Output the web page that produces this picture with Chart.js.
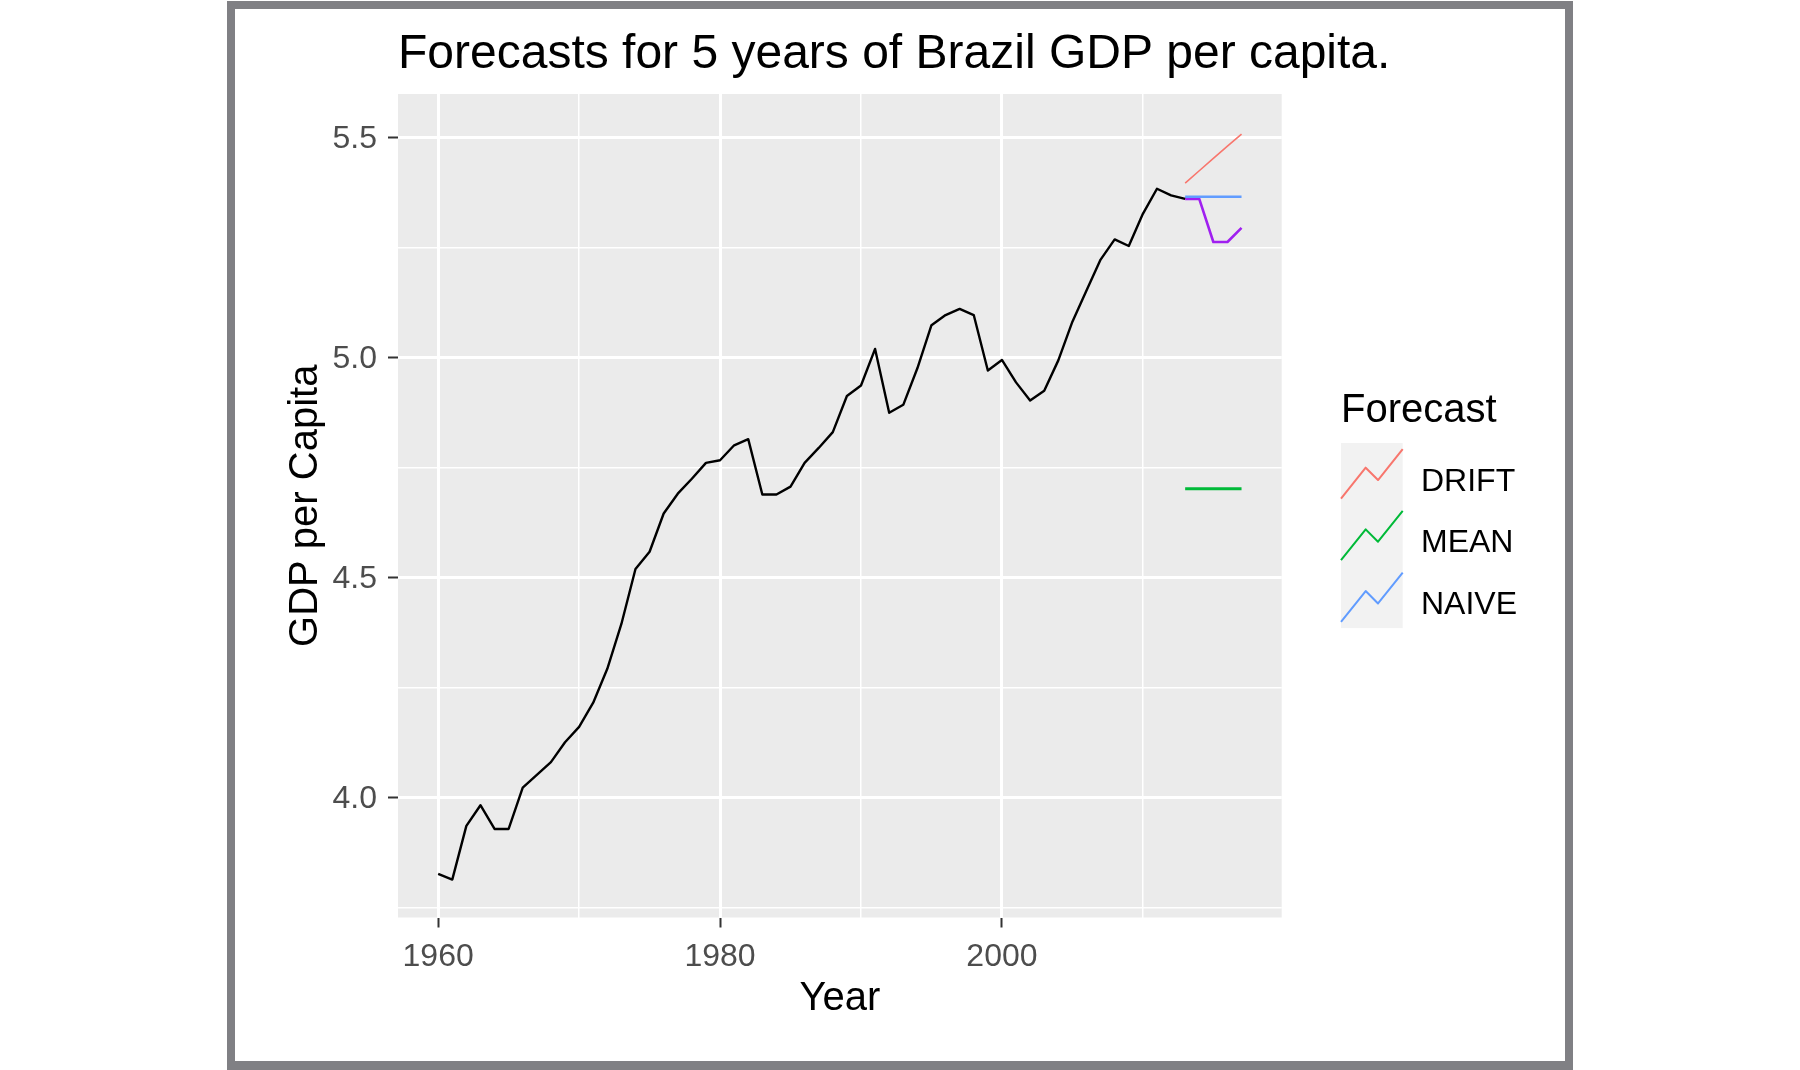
<!DOCTYPE html>
<html>
<head>
<meta charset="utf-8">
<title>Forecasts for 5 years of Brazil GDP per capita.</title>
<script src="https://cdn.jsdelivr.net/npm/chart.js@4.4.1/dist/chart.umd.min.js"></script>
<style>
    html, body { margin: 0; padding: 0; background: #ffffff; }
    #wrap { width: 1800px; height: 1070px; position: relative; }
</style>
</head>
<body>
<div id="wrap"><canvas id="gdpChart" width="1800" height="1070"></canvas></div>
<script>
// Brazil GDP per capita (log10) with 5 year forecasts

const years = [1960, 1961, 1962, 1963, 1964, 1965, 1966, 1967, 1968, 1969,
               1970, 1971, 1972, 1973, 1974, 1975, 1976, 1977, 1978, 1979,
               1980, 1981, 1982, 1983, 1984, 1985, 1986, 1987, 1988, 1989,
               1990, 1991, 1992, 1993, 1994, 1995, 1996, 1997, 1998, 1999,
               2000, 2001, 2002, 2003, 2004, 2005, 2006, 2007, 2008, 2009,
               2010, 2011, 2012, 2013];
const gdp = [3.826, 3.813, 3.935, 3.982, 3.928, 3.928, 4.022, 4.051, 4.080, 4.125,
             4.160, 4.215, 4.292, 4.394, 4.519, 4.558, 4.645, 4.690, 4.724, 4.760,
             4.766, 4.800, 4.814, 4.688, 4.688, 4.706, 4.760, 4.794, 4.830, 4.912,
             4.936, 5.019, 4.874, 4.892, 4.975, 5.073, 5.096, 5.110, 5.096, 4.970,
             4.994, 4.943, 4.902, 4.924, 4.993, 5.081, 5.152, 5.222, 5.268, 5.253,
             5.326, 5.383, 5.368, 5.360];

const forecastYears = [2013, 2014, 2015, 2016, 2017];
const driftValues = [5.396, 5.424, 5.452, 5.480, 5.507];
const meanValues = [4.701, 4.701, 4.701, 4.701, 4.701];
const naiveValues = [5.365, 5.365, 5.365, 5.365, 5.365];
const actualValues = [5.360, 5.360, 5.262, 5.262, 5.294];

const legendLabels = ['DRIFT', 'MEAN', 'NAIVE'];

// axis breaks
const xTickLabels = [1960, 1980, 2000];
const xMinorBreaks = [1970, 1990, 2010];
const yTickLabels = [4.0, 4.5, 5.0, 5.5];
const yMinorBreaks = [3.75, 4.25, 4.75, 5.25];
const xLimits = [1957.15, 2019.85];
const yLimits = [3.7268, 5.5984];

const FONT = "'Liberation Sans', Arial, sans-serif";

function toPoints(xs, ys) {
    return xs.map((x, i) => ({ x: x, y: ys[i] }));
}

function isIn(list, v) {
    return list.some(m => Math.abs(m - v) < 1e-6);
}

// ggplot-like background, border, titles and legend
const ggDecor = {
    id: 'ggDecor',
    beforeDraw(chart) {
        const ctx = chart.ctx;
        const area = chart.chartArea;
        ctx.save();
        ctx.fillStyle = '#ffffff';
        ctx.fillRect(0, 0, chart.width, chart.height);
        // grey frame around the picture
        ctx.fillStyle = '#808084';
        ctx.fillRect(227, 1, 1346, 1069);
        ctx.fillStyle = '#ffffff';
        ctx.fillRect(235, 9, 1330, 1052);
        // panel
        ctx.fillStyle = '#ebebeb';
        ctx.fillRect(area.left, area.top, area.right - area.left, area.bottom - area.top);
        ctx.restore();
    },
    afterDraw(chart) {
        const ctx = chart.ctx;
        const area = chart.chartArea;
        ctx.save();
        ctx.fillStyle = '#000000';
        ctx.textBaseline = 'alphabetic';

        // title
        ctx.font = '48px ' + FONT;
        ctx.textAlign = 'left';
        ctx.fillText('Forecasts for 5 years of Brazil GDP per capita.', area.left, 68);

        // x axis title
        ctx.font = '40px ' + FONT;
        ctx.textAlign = 'center';
        ctx.fillText('Year', (area.left + area.right) / 2, 1010);

        // y axis title
        ctx.save();
        ctx.translate(317, (area.top + area.bottom) / 2);
        ctx.rotate(-Math.PI / 2);
        ctx.fillText('GDP per Capita', 0, 0);
        ctx.restore();

        // legend
        const keyLeft = 1341, keyTop = 443, keySize = 61.7;
        ctx.textAlign = 'left';
        ctx.font = '40px ' + FONT;
        ctx.fillText('Forecast', keyLeft, 422);

        const items = chart.data.datasets.filter(d => d.legendKey);
        ctx.fillStyle = '#f2f2f2';
        ctx.fillRect(keyLeft, keyTop, keySize, keySize * items.length);

        const zx = [0, 0.4, 0.6, 1];
        const zy = [0.1, 0.6, 0.4, 0.9];
        items.forEach((d, i) => {
            const top = keyTop + i * keySize;
            ctx.beginPath();
            zx.forEach((fx, j) => {
                const px = keyLeft + fx * keySize;
                const py = top + (1 - zy[j]) * keySize;
                if (j === 0) ctx.moveTo(px, py); else ctx.lineTo(px, py);
            });
            ctx.strokeStyle = d.borderColor;
            ctx.lineWidth = 2;
            ctx.lineJoin = 'round';
            ctx.stroke();

            ctx.fillStyle = '#000000';
            ctx.font = '32px ' + FONT;
            ctx.fillText(d.label, 1421, top + 47.5);
        });
        ctx.restore();
    }
};

const canvas = document.getElementById('gdpChart');
const chartCtx = canvas.getContext('2d');

new Chart(chartCtx, {
    type: 'line',
    data: {
        datasets: [
            {
                label: 'Brazil',
                data: toPoints(years, gdp),
                borderColor: '#000000',
                borderWidth: 2.4
            },
            {
                label: legendLabels[0],
                data: toPoints(forecastYears, driftValues),
                borderColor: '#F8766D',
                borderWidth: 1.6,
                legendKey: true
            },
            {
                label: legendLabels[1],
                data: toPoints(forecastYears, meanValues),
                borderColor: '#00BA38',
                borderWidth: 3,
                legendKey: true
            },
            {
                label: legendLabels[2],
                data: toPoints(forecastYears, naiveValues),
                borderColor: '#619CFF',
                borderWidth: 2.6,
                legendKey: true
            },
            {
                label: 'Actual',
                data: toPoints(forecastYears, actualValues),
                borderColor: '#A020F0',
                borderWidth: 2.6
            }
        ]
    },
    options: {
        responsive: false,
        animation: false,
        devicePixelRatio: 1,
        layout: {
            padding: { top: 94, right: 518.3, bottom: 0, left: 0 }
        },
        elements: {
            point: { radius: 0, hoverRadius: 0 },
            line: { tension: 0, fill: false, borderJoinStyle: 'round', borderCapStyle: 'butt' }
        },
        plugins: {
            legend: { display: false },
            title: { display: false },
            tooltip: { enabled: false }
        },
        scales: {
            x: {
                type: 'linear',
                min: xLimits[0],
                max: xLimits[1],
                afterBuildTicks: function(scale) {
                    scale.ticks = xTickLabels.concat(xMinorBreaks)
                        .sort((a, b) => a - b)
                        .map(v => ({ value: v }));
                },
                afterFit: function(scale) {
                    scale.height = 152.5;
                },
                ticks: {
                    autoSkip: false,
                    maxRotation: 0,
                    padding: 10,
                    color: '#4d4d4d',
                    font: { family: FONT, size: 32 },
                    callback: function(value) {
                        return isIn(xTickLabels, value) ? String(value) : '';
                    }
                },
                grid: {
                    color: '#ffffff',
                    lineWidth: ctx => isIn(xTickLabels, ctx.tick.value) ? 3 : 1.5,
                    drawTicks: true,
                    tickLength: 10,
                    tickWidth: 2,
                    tickColor: ctx => isIn(xTickLabels, ctx.tick.value) ? '#333333' : 'rgba(0,0,0,0)'
                },
                border: { display: false }
            },
            y: {
                type: 'linear',
                min: yLimits[0],
                max: yLimits[1],
                afterBuildTicks: function(scale) {
                    scale.ticks = yTickLabels.concat(yMinorBreaks)
                        .sort((a, b) => a - b)
                        .map(v => ({ value: v }));
                },
                afterFit: function(scale) {
                    scale.width = 398;
                },
                ticks: {
                    autoSkip: false,
                    padding: 11,
                    labelOffset: 2,
                    color: '#4d4d4d',
                    font: { family: FONT, size: 32 },
                    callback: function(value) {
                        return isIn(yTickLabels, value) ? value.toFixed(1) : '';
                    }
                },
                grid: {
                    color: '#ffffff',
                    lineWidth: ctx => isIn(yTickLabels, ctx.tick.value) ? 3 : 1.5,
                    drawTicks: true,
                    tickLength: 10,
                    tickWidth: 2,
                    tickColor: ctx => isIn(yTickLabels, ctx.tick.value) ? '#333333' : 'rgba(0,0,0,0)'
                },
                border: { display: false }
            }
        }
    },
    plugins: [ggDecor]
});
</script>
</body>
</html>
